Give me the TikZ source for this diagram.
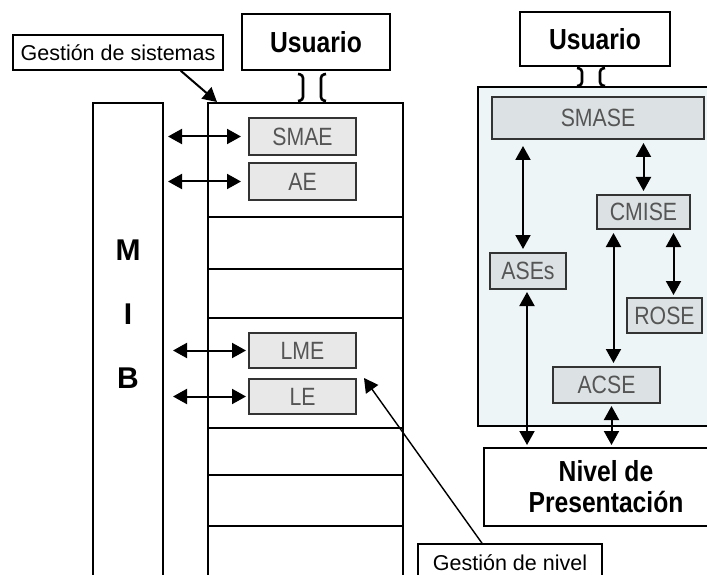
\documentclass[tikz,border=0pt]{standalone}
\usepackage{fontspec}
\setmainfont{Liberation Sans}
\newfontfamily\narrowfont[FakeStretch=0.85]{Liberation Sans}
\usetikzlibrary{arrows.meta}
\definecolor{boxgray}{HTML}{E8E8E8}
\definecolor{boxblue}{HTML}{DCE2E4}
\definecolor{panelblue}{HTML}{EEF5F7}
\definecolor{labelgray}{HTML}{555555}
\begin{document}
\begin{tikzpicture}[x=1pt, y=-1pt, line width=2pt,
  plain/.style={draw, line width=1.6pt, fill=white, inner sep=0pt, font=\fontsize{21.5}{25}\selectfont},
  title/.style={draw, fill=white, align=center, inner sep=0pt, font=\narrowfont\bfseries\fontsize{29}{31}\selectfont},
  entity/.style={draw=black!80, line width=2pt, fill=boxgray, text=labelgray, inner sep=0pt, font=\narrowfont\fontsize{25}{28}\selectfont},
  service/.style={entity, fill=boxblue},
  column/.style={draw, inner sep=0pt},
  both/.style={{Triangle[width=15pt,length=14pt]}-{Triangle[width=15pt,length=14pt]}},
  single/.style={-{Triangle[width=15pt,length=14pt]}},
  wide link/.pic={
    \draw[line width=2.6pt, rounded corners=3pt] (-14,0) -- (-9,1) -- (-9,#1-1) -- (-14,#1);
    \draw[line width=2.6pt, rounded corners=3pt] (14,0) -- (9,1) -- (9,#1-1) -- (14,#1);}]
\useasboundingbox (0,0) rectangle (707,575);
\clip (0,0) rectangle (707,575);

% left side
\node[plain, minimum width=210, minimum height=35] (gsis) at (118,52.5) {Gestión de sistemas};
\node[title, minimum width=148, minimum height=56] (usr1) at (316,42) {Usuario};
\node[column, minimum width=70, minimum height=517] (mib) at (128,361.5) {};
\node[align=center, font=\bfseries\fontsize{30}{64}\selectfont] (mibtext) at (128,314) {M\\I\\B};
\node[column, minimum width=195, minimum height=517] (stack) at (305.5,361.5) {};
\foreach \y in {217,269,318,428,475,526}
  \draw (stack.west |- 0,\y) -- (stack.east |- 0,\y);

\node[entity, minimum width=107, minimum height=37] (smae) at (302.5,136.5) {SMAE};
\node[entity, minimum width=107, minimum height=37] (ae) at (302.5,181.5) {AE};
\node[entity, minimum width=107, minimum height=35] (lme) at (302.5,350.5) {LME};
\node[entity, minimum width=107, minimum height=35] (le) at (302.5,396.5) {LE};

\draw[both, shorten <=4pt, shorten >=7pt] (mib.east |- smae) -- (smae.west);
\draw[both, shorten <=4pt, shorten >=7pt] (mib.east |- ae) -- (ae.west);
\draw[both, shorten <=9pt, shorten >=2pt] (mib.east |- lme) -- (lme.west);
\draw[both, shorten <=9pt, shorten >=2pt] (mib.east |- le) -- (le.west);

\draw[single] ([xshift=-43pt]gsis.south east) -- ([xshift=10pt]stack.north west);
\pic at ([xshift=-4pt, yshift=-3pt]usr1.south) {wide link=27};

\node[plain, minimum width=184, minimum height=38] (gniv) at (510,563) {Gestión de nivel};
\draw[single, line width=1.4pt] ([xshift=-28pt]gniv.north) -- ([xshift=7pt, yshift=-9pt]lme.south east);

% right side
\node[column, fill=panelblue, minimum width=240, minimum height=339] (panel) at (598,256.5) {};
\node[title, minimum width=150, minimum height=54] (usr2) at (595,39) {Usuario};
\pic at ([xshift=-4pt, yshift=-1pt]usr2.south) {wide link=18};

\node[service, minimum width=212, minimum height=42] (smase) at (598,118) {SMASE};
\node[service, minimum width=93, minimum height=34] (cmise) at (643.5,212) {CMISE};
\node[service, minimum width=76, minimum height=36] (ases) at (528,271) {ASEs};
\node[service, minimum width=75, minimum height=35] (rose) at (664.5,315.5) {ROSE};
\node[service, minimum width=107, minimum height=36] (acse) at (606.5,385) {ACSE};
\node[title, minimum width=244, minimum height=78] (nivel) at (606,487) {Nivel de\\Presentación};

\draw[both, shorten <=3pt, shorten >=6pt] ([xshift=-5pt]ases.north) -- ([xshift=-5pt]ases.north |- smase.south);
\draw[both, shorten <=3pt, shorten >=3pt] (cmise.north) -- (cmise.north |- smase.south);
\draw[both, shorten <=2pt, shorten >=2pt] ([xshift=-1pt]ases.south) -- ([xshift=-1pt]ases.south |- nivel.north);
\draw[both, shorten <=3pt, shorten >=3pt] ([xshift=-30pt]cmise.south) -- ([xshift=-30pt]cmise.south |- acse.north);
\draw[both, shorten <=3pt, shorten >=2pt] ([xshift=30pt]cmise.south) -- ([xshift=30pt]cmise.south |- rose.north);
\draw[both, shorten <=2pt, shorten >=2pt] ([xshift=5pt]acse.south) -- ([xshift=5pt]acse.south |- nivel.north);
\end{tikzpicture}
\end{document}
